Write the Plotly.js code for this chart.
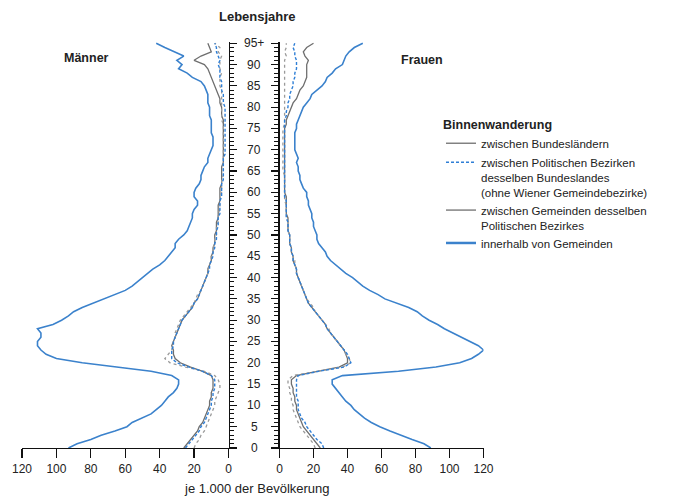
<!DOCTYPE html>
<html>
<head>
<meta charset="utf-8">
<script src="https://cdn.plot.ly/plotly-3.0.1.min.js"></script>
<style>html,body{margin:0;padding:0;background:#fff;}#chart{width:674px;height:498px;}</style>
</head>
<body>
<div id="chart"></div>
<script>
// Ages (Lebensjahre) 0 .. 95+
const ages = [0,1,2,3,4,5,6,7,8,9,10,11,12,13,14,15,16,17,18,19,20,21,22,23,24,25,26,27,28,29,30,31,32,33,34,35,36,37,38,39,40,41,42,43,44,45,46,47,48,49,50,51,52,53,54,55,56,57,58,59,60,61,62,63,64,65,66,67,68,69,70,71,72,73,74,75,76,77,78,79,80,81,82,83,84,85,86,87,88,89,90,91,92,93,94,95];

// Männer (je 1.000 der Bevölkerung)
const menBundeslaender = [26,24,22,20,18,17,15,14,13,12, 11,11,10,10,9,9,9,10,15,22, 28,31,32,32,33,32,31,30,29,28, 27,25,23,21,20,18,17,16,15,14, 13,12,12,11,10,10,9,9,8,8, 8,7,7,7,6,6,6,6,5,5, 5,5,4,4,4,4,4,3,3,3, 3,3,3,3,3,3,3,3,4,4, 4,5,5,6,7,8,9,10,11,12, 14,20,16,10,11,12];
const menBezirke = [25,23,21,19,17,16,14,13,12,11, 10,10,9,9,8,8,8,10,15,23, 30,33,33,33,32,32,31,30,29,28, 27,25,23,21,20,18,17,16,15,14, 13,12,11,11,10,9,9,8,8,7, 7,7,6,6,6,5,5,5,5,4, 4,4,4,3,3,3,3,3,3,2, 2,2,2,2,2,2,2,2,2,2, 2,3,3,3,4,4,4,5,5,5, 6,5,6,7,7,8];
const menGemeinden = [20,19,17,16,14,13,12,11,10,9, 8,8,7,6,5,5,6,8,14,25, 34,37,35,33,32,32,31,31,30,29, 28,26,24,22,20,19,18,16,15,14, 13,12,12,11,10,10,9,9,8,8, 7,7,7,6,6,6,5,5,5,5, 4,4,4,4,3,3,3,3,3,3, 3,3,3,3,3,3,3,4,4,4, 4,4,4,4,4,5,5,5,4,5, 5,5,4,6,5,8];
const menInnerhalb = [93,88,80,74,66,59,56,50,45,42, 39,37,35,32,30,29,29,33,45,65, 85,100,106,109,111,111,109,109,111,102, 97,93,90,85,79,73,66,60,56,53, 50,47,44,40,37,35,33,31,31,29, 26,24,23,22,21,21,20,18,18,20, 20,19,17,16,16,15,14,12,12,11, 10,9,9,9,10,10,10,10,11,11, 11,12,12,12,13,14,16,21,24,29, 27,30,26,32,37,42];

// Frauen (je 1.000 der Bevölkerung)
const womenBundeslaender = [24,22,20,18,16,14,13,12,11,10, 10,9,9,8,8,7,7,10,22,35, 40,40,39,38,36,34,32,30,28,27, 25,23,21,19,17,16,15,14,13,12, 11,10,10,9,8,8,7,7,6,6, 6,5,5,5,5,4,4,4,4,4, 3,3,3,3,3,3,3,3,3,3, 3,3,3,3,3,3,4,4,5,6, 7,8,10,11,12,14,15,16,16,16, 16,17,15,14,16,20];
const womenBezirke = [26,25,22,20,18,16,15,13,12,11, 11,11,10,10,10,10,10,11,23,38, 42,41,40,38,36,34,32,30,28,27, 25,23,21,19,17,16,15,14,13,12, 11,10,10,9,8,8,7,7,6,6, 6,5,5,5,4,4,4,4,4,3, 3,3,3,3,3,3,3,3,3,3, 3,3,3,3,3,3,3,3,4,4, 5,5,6,6,7,8,8,9,9,10, 10,10,9,9,8,9];
const womenGemeinden = [21,20,18,16,14,12,11,10,9,8, 8,7,7,6,6,5,5,8,22,37, 42,41,39,38,36,34,32,30,29,27, 25,23,21,20,18,16,15,14,13,12, 11,10,10,9,9,8,7,7,6,6, 6,5,5,5,4,4,4,4,3,3, 3,3,3,3,3,2,2,2,2,2, 2,2,2,2,2,2,3,3,3,3, 3,3,3,3,3,3,3,3,3,3, 3,3,4,3,4,4];
const womenInnerhalb = [89,85,78,71,65,59,54,50,47,44, 42,39,37,35,33,31,31,37,70,92, 106,113,117,120,117,112,107,102,97,93, 88,84,81,76,69,62,58,53,49,46, 43,39,36,33,30,28,27,25,23,22, 22,21,20,20,19,19,18,17,17,16, 16,14,13,12,12,11,11,10,11,10, 9,9,9,9,9,10,10,11,12,13, 14,16,18,19,22,25,27,28,31,33, 37,38,39,41,44,49];

// Axis ticks and labels
const xTickVals = [0,20,40,60,80,100,120];
const xTickText = ['0','20','40','60','80','100','120'];
const ageTickVals = [0,5,10,15,20,25,30,35,40,45,50,55,60,65,70,75,80,85,90,95];
const ageTickText = ['0','5','10','15','20','25','30','35','40','45','50','55','60','65','70','75','80','85','90','95+'];

const seriesNames = [
  'zwischen Bundesländern',
  'zwischen Politischen Bezirken<br>desselben Bundeslandes<br>(ohne Wiener Gemeindebezirke)',
  'zwischen Gemeinden desselben<br>Politischen Bezirkes',
  'innerhalb von Gemeinden'
];

const BLUE = '#3b82cc';
const GRAY = '#6f6f6f';
const LGRAY = '#9a9a9a';
const styles = [
  {color: GRAY, width: 1.3},
  {color: '#2f7fd6', width: 1.4, dash: '3px,2px'},
  {color: LGRAY, width: 1.3, dash: 'dot'},
  {color: BLUE, width: 1.6}
];
const legendStyles = [
  {color: GRAY, width: 1.3},
  {color: '#2f7fd6', width: 1.4, dash: '3px,2px'},
  {color: GRAY, width: 1.3},
  {color: BLUE, width: 2.5}
];

const menSeries = [menBundeslaender, menBezirke, menGemeinden, menInnerhalb];
const womenSeries = [womenBundeslaender, womenBezirke, womenGemeinden, womenInnerhalb];

const traces = [];
const order = [3, 0, 2, 1];
order.forEach(i => {
  traces.push({x: menSeries[i], y: ages, type: 'scatter', mode: 'lines', xaxis: 'x', yaxis: 'y',
    line: styles[i], name: seriesNames[i], showlegend: false, hoverinfo: 'skip'});
  traces.push({x: womenSeries[i], y: ages, type: 'scatter', mode: 'lines', xaxis: 'x2', yaxis: 'y2',
    line: styles[i], name: seriesNames[i], showlegend: false, hoverinfo: 'skip'});
});
// legend entries
seriesNames.forEach((n, i) => {
  traces.push({x: [null], y: [null], type: 'scatter', mode: 'lines', xaxis: 'x2', yaxis: 'y2',
    line: legendStyles[i], name: n, showlegend: true});
});

const W = 674, H = 498;
const yBottom = 448, yTop = 42;
const ageMax = 95.3;
const yDomain = [(H - yBottom) / H, (H - yTop) / H];
const FONT = 'Liberation Sans, Arial, Helvetica, sans-serif';
const TXT = '#222';

const yCommon = {
  range: [0, ageMax], domain: yDomain, showgrid: false, zeroline: false,
  showline: true, linecolor: '#111', linewidth: 1.2,
  ticks: 'outside', ticklen: 7, tickwidth: 1.2, tickcolor: '#111',
  tickmode: 'array', tickvals: ageTickVals, showticklabels: false,
  minor: {ticks: 'outside', ticklen: 4, tickwidth: 1, tickcolor: '#111', dtick: 1, tick0: 0, showgrid: false},
  fixedrange: true
};
const xCommon = {
  showgrid: false, zeroline: false, showline: true, linecolor: '#111', linewidth: 1.2,
  ticks: 'outside', ticklen: 9, tickwidth: 1.2, tickcolor: '#111',
  tickmode: 'array', tickvals: xTickVals, ticktext: xTickText,
  tickfont: {family: FONT, size: 12, color: TXT}, fixedrange: true
};

const annotations = ageTickVals.map((v, i) => ({
  x: 254 / W, xref: 'paper', y: v, yref: 'y', text: ageTickText[i], showarrow: false,
  xanchor: 'center', yanchor: 'middle', font: {family: FONT, size: 12, color: TXT}
}));
annotations.push(
  {x: 257 / W, y: (H - 17) / H, xref: 'paper', yref: 'paper', text: '<b>Lebensjahre</b>', showarrow: false,
   xanchor: 'center', yanchor: 'middle', font: {family: FONT, size: 13, color: TXT}},
  {x: 87 / W, y: (H - 58) / H, xref: 'paper', yref: 'paper', text: '<b>Männer</b>', showarrow: false,
   xanchor: 'center', yanchor: 'middle', font: {family: FONT, size: 12.5, color: TXT}},
  {x: 422 / W, y: (H - 60) / H, xref: 'paper', yref: 'paper', text: '<b>Frauen</b>', showarrow: false,
   xanchor: 'center', yanchor: 'middle', font: {family: FONT, size: 12.5, color: TXT}},
  {x: 257 / W, y: (H - 488) / H, xref: 'paper', yref: 'paper', text: 'je 1.000 der Bevölkerung', showarrow: false,
   xanchor: 'center', yanchor: 'middle', font: {family: FONT, size: 13, color: TXT}}
);

const layout = {
  width: W, height: H,
  margin: {l: 0, r: 0, t: 0, b: 0},
  paper_bgcolor: '#fff', plot_bgcolor: 'rgba(0,0,0,0)',
  font: {family: FONT, size: 12, color: TXT},
  xaxis: Object.assign({}, xCommon, {domain: [22 / W, 228.5 / W], range: [120, 0], anchor: 'y'}),
  yaxis: Object.assign({}, yCommon, {anchor: 'x', side: 'right'}),
  xaxis2: Object.assign({}, xCommon, {domain: [279.5 / W, 483.5 / W], range: [0, 120], anchor: 'y2'}),
  yaxis2: Object.assign({}, yCommon, {anchor: 'x2', side: 'left'}),
  showlegend: true,
  legend: {
    x: 441 / W, y: (H - 113) / H, xanchor: 'left', yanchor: 'top',
    bgcolor: 'rgba(0,0,0,0)', borderwidth: 0,
    title: {text: '<b>Binnenwanderung</b>', font: {family: FONT, size: 12.5, color: TXT}},
    font: {family: FONT, size: 11.5, color: TXT},
    valign: 'top', tracegroupgap: 0, itemwidth: 30
  },
  annotations: annotations
};

Plotly.newPlot('chart', traces, layout, {staticPlot: true, displayModeBar: false});
</script>
</body>
</html>
